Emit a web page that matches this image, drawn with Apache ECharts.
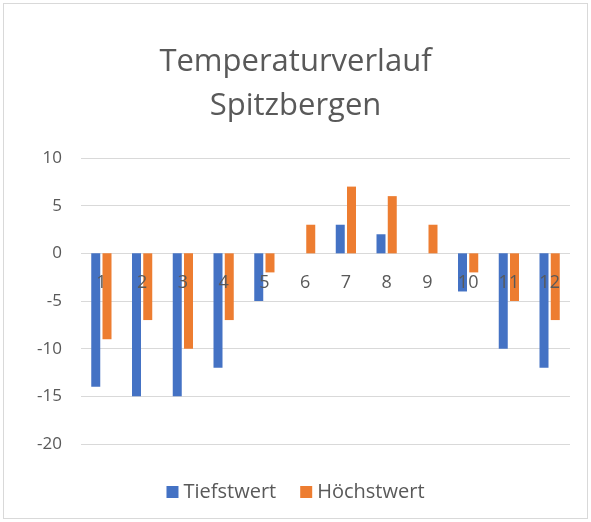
<!DOCTYPE html>
<html>
<head>
<meta charset="utf-8">
<script src="https://cdn.jsdelivr.net/npm/echarts@6/dist/echarts.min.js"></script>
<style>
  html, body { margin: 0; padding: 0; background: #fff; }
  #main { width: 585px; height: 516px; margin: 3px; border: 1px solid #d9d9d9; box-sizing: border-box; }
</style>
</head>
<body>
<div id="main"></div>
<script>
  // Monate und Temperaturen
  var months = ['1', '2', '3', '4', '5', '6', '7', '8', '9', '10', '11', '12'];
  var tiefstwert = [-14, -15, -15, -12, -5, 0, 3, 2, 0, -4, -10, -12];
  var hoechstwert = [-9, -7, -10, -7, -2, 3, 7, 6, 3, -2, -5, -7];

  var chart = echarts.init(document.getElementById('main'));
  var textColor = '#595959';

  chart.setOption({
    animation: false,
    color: ['#4472c4', '#ed7d31'],
    title: {
      text: 'Temperaturverlauf\nSpitzbergen',
      left: 'center',
      top: 31,
      textStyle: {
        fontFamily: 'Open Sans',
        fontWeight: 'normal',
        fontSize: 31,
        lineHeight: 44,
        color: textColor
      }
    },
    legend: {
      bottom: 11,
      left: 'center',
      itemWidth: 12,
      itemHeight: 12,
      itemGap: 24,
      icon: 'rect',
      textStyle: { fontFamily: 'Open Sans', fontSize: 20, color: textColor },
      data: ['Tiefstwert', 'Höchstwert']
    },
    grid: {
      left: 77,
      right: 17,
      top: 154,
      bottom: 74
    },
    xAxis: {
      type: 'category',
      data: months,
      position: 'bottom',
      axisLine: { show: false, onZero: false },
      axisTick: { show: false },
      axisLabel: {
        margin: 21,
        fontFamily: 'Open Sans',
        fontSize: 18,
        color: textColor
      },
      z: 10
    },
    yAxis: {
      type: 'value',
      min: -20,
      max: 10,
      interval: 5,
      axisLine: { show: false },
      axisTick: { show: false },
      axisLabel: {
        margin: 19,
        fontFamily: 'Open Sans',
        fontSize: 17,
        color: textColor
      },
      splitLine: { lineStyle: { color: '#d9d9d9', width: 1 } }
    },
    series: [
      {
        name: 'Tiefstwert',
        type: 'bar',
        data: tiefstwert,
        barWidth: 9,
        barGap: '25%'
      },
      {
        name: 'Höchstwert',
        type: 'bar',
        data: hoechstwert,
        barWidth: 9,
        barGap: '25%'
      }
    ]
  });

  // Kategorie-Beschriftung an die Nulllinie schieben (wie in Excel)
  var zeroY = chart.convertToPixel({ yAxisIndex: 0 }, 0);
  var bottomY = chart.convertToPixel({ yAxisIndex: 0 }, -20);
  chart.setOption({ xAxis: { offset: zeroY - bottomY } });
</script>
</body>
</html>
